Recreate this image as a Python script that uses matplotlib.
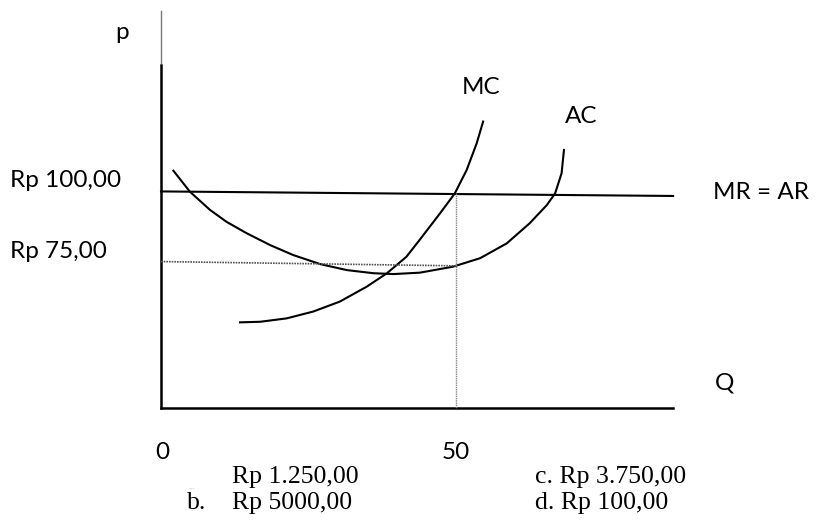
import matplotlib.pyplot as plt

# values (Q on x, price on y)
ac_q = [2.1, 4.9, 8.3, 11.1, 14.5, 18.5, 22.4, 27.0, 31.5, 36.0, 39.4, 43.9,
        49.5, 54.1, 58.6, 62.5, 65.4, 66.8, 67.9, 68.3]
ac_p = [106.8, 99.4, 93.0, 88.8, 84.8, 80.6, 77.1, 73.9, 71.8, 70.7, 70.4, 70.9,
        73.0, 76.0, 81.2, 88.3, 94.7, 98.8, 105.9, 114.1]
mc_q = [13.4, 16.8, 21.3, 25.8, 30.3, 34.9, 38.3, 41.6, 43.9, 47.3, 49.8, 51.8, 53.5, 54.6]
mc_p = [53.4, 53.6, 54.8, 57.2, 60.7, 66.0, 70.7, 76.5, 82.6, 91.8, 98.8, 107.0, 116.4, 124.1]
mr_q = [0, 86.8]
mr_p = [99.5, 97.9]
q_star = 50
p_ac = [74.8, 73.3]
q_axis_top = 86.8
p_axis_bottom = 23.2

price_labels = ['Rp 100,00', 'Rp 75,00']
price_label_pos = [103.5, 78.2]
q_ticks = ['0', '50']
answers = ['Rp 1.250,00', 'Rp 5000,00', 'c. Rp 3.750,00', 'd. Rp 100,00']

fig = plt.figure(figsize=(8.19, 5.32), dpi=100)
ax = fig.add_axes([0, 0, 1, 1])
ax.set_xlim(-27.29, 111.53)
ax.set_ylim(-20.42, 166.9)
ax.axis('off')

# axes of the diagram
ax.plot([0, 0], [p_axis_bottom, 144], color='black', lw=1.8)
ax.plot([0, 0], [144.6, 163.2], color='#777777', lw=1.0)
ax.plot([0, q_axis_top], [p_axis_bottom, p_axis_bottom], color='black', lw=1.8)

# curves
ax.plot(mr_q, mr_p, color='black', lw=1.5)
ax.plot(ac_q, ac_p, color='black', lw=1.5, solid_joinstyle='round')
ax.plot(mc_q, mc_p, color='black', lw=1.5, solid_joinstyle='round')

# dotted guides
ax.plot([0, q_star], p_ac, color='#555555', lw=1.2, ls=(0, (1, 0.6)))
ax.plot([q_star, q_star], [98.8, p_axis_bottom], color='#888888', lw=1.0, ls=(0, (1, 0.6)))

sans = 'Lato'
fs = 17.5
ax.text(-6.6, 155.5, 'p', fontsize=fs, family=sans, ha='center', va='center')
for lab, y in zip(price_labels, price_label_pos):
    ax.text(-25.6, y, lab, fontsize=fs, family=sans, ha='left', va='center')
ax.text(54.2, 136.0, 'MC', fontsize=fs, family=sans, ha='center', va='center')
ax.text(71.2, 125.8, 'AC', fontsize=fs, family=sans, ha='center', va='center')
ax.text(93.6, 99.0, 'MR = AR', fontsize=fs, family=sans, ha='left', va='center')
ax.text(95.6, 32.0, 'Q', fontsize=fs, family=sans, ha='center', va='center')
ax.text(0.3, 7.4, q_ticks[0], fontsize=fs, family=sans, ha='center', va='center')
ax.text(50.0, 7.4, q_ticks[1], fontsize=fs, family=sans, ha='center', va='center')

serif = 'Liberation Serif'
sfs = 18.5
ax.text(4.6, -4.6, '...', fontsize=6, family=serif, color='#bbbbbb', ha='left', va='center')
ax.text(12.0, -1.1, answers[0], fontsize=sfs, family=serif, ha='left', va='center')
ax.text(4.4, -10.2, 'b.', fontsize=sfs, family=serif, ha='left', va='center')
ax.text(12.0, -10.2, answers[1], fontsize=sfs, family=serif, ha='left', va='center')
ax.text(63.4, -1.1, answers[2], fontsize=sfs, family=serif, ha='left', va='center')
ax.text(63.4, -10.2, answers[3], fontsize=sfs, family=serif, ha='left', va='center')

fig.savefig('out.png', dpi=100)
